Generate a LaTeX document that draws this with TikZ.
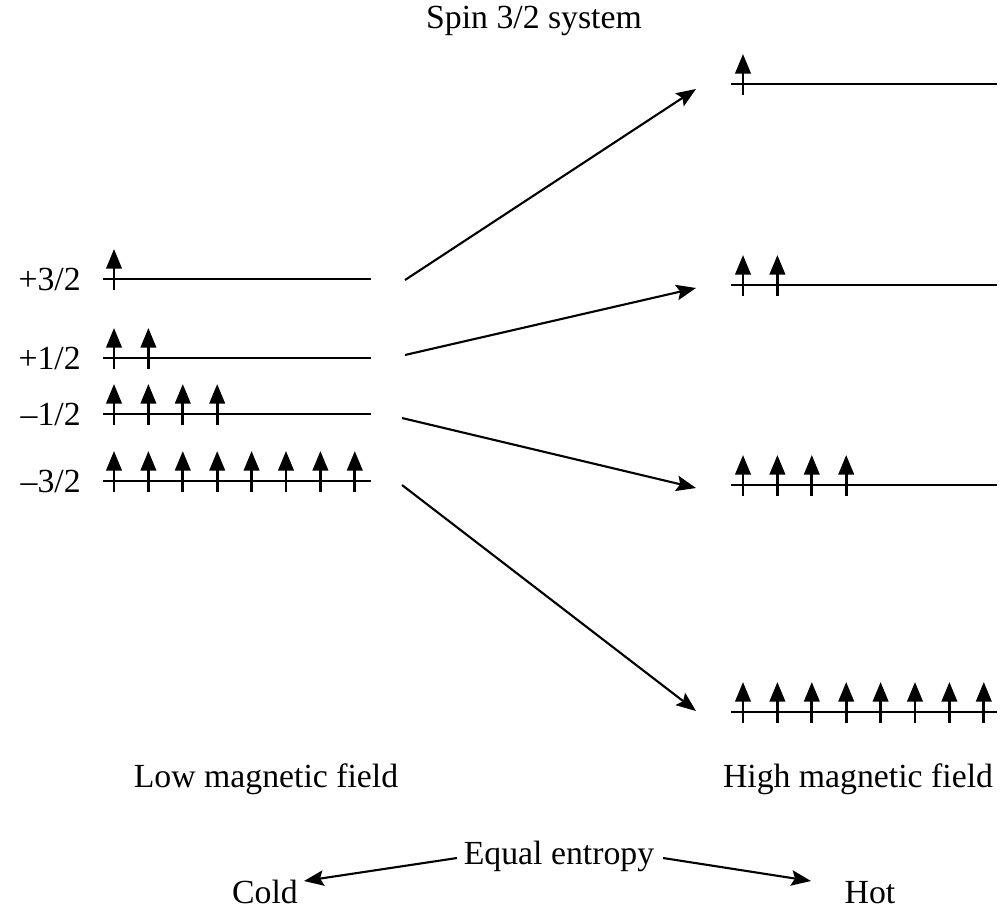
\documentclass[tikz,border=0pt]{standalone}
\usepackage{fontspec}
\setmainfont{Liberation Serif}
\usetikzlibrary{positioning,arrows.meta}

\begin{document}
\begin{tikzpicture}[
    x=0.025cm, y=-0.025cm,
    lab/.style={font=\fontsize{24}{28}\selectfont, inner sep=0pt, anchor=base},
    level/.style={line width=1.9pt},
    spin/.style={line width=1.9pt, -{Triangle[length=14pt, width=11pt]}},
    trans/.style={line width=1.5pt, -{Stealth[length=14pt, width=11pt, inset=2.5pt]}}
]
\useasboundingbox (0,0) rectangle (1001,909);

% Title
\node[lab] (title) at (534,28) {Spin 3/2 system};

% Low field levels
\foreach \yy/\nn/\lab/\id in {279/1/{+3/2}/a, 358/2/{+1/2}/b, 414/4/{\textendash1/2}/c, 481/8/{\textendash3/2}/d}{
    \node[lab, anchor=base east] (low-\id) at (81,\yy+11) {\lab};
    \draw[level] (103,\yy) -- (371,\yy);
    \foreach \k in {1,...,\nn}
        \draw[spin] ({114+34.4*(\k-1)},\yy+11) -- ++(0,-41);
}

% High field levels
\foreach \yy/\nn in {84/1, 285/2, 485/4, 712/8}{
    \draw[level] (731,\yy) -- (997,\yy);
    \foreach \k in {1,...,\nn}
        \draw[spin] ({743+34.4*(\k-1)},\yy+11) -- ++(0,-41);
}

% Level shifts
\coordinate (lo-a) at (405,280);
\coordinate (lo-b) at (405,355);
\coordinate (lo-c) at (402,418);
\coordinate (lo-d) at (402,485);
\coordinate (hi-a) at (696,89);
\coordinate (hi-b) at (696,288);
\coordinate (hi-c) at (696,488);
\coordinate (hi-d) at (696,711);
\draw[trans] (lo-a) -- (hi-a);
\draw[trans] (lo-b) -- (hi-b);
\draw[trans] (lo-c) -- (hi-c);
\draw[trans] (lo-d) -- (hi-d);

% Bottom labels
\node[lab] (lowf) at (266,787) {Low magnetic field};
\node[lab] (highf) at (858,787) {High magnetic field};
\node[lab] (eq) at (559,864) {Equal entropy};
\node[lab] (cold) at (265,903) {Cold};
\node[lab] (hot) at (870,903) {Hot};
\coordinate (eq-l) at (457,858);
\coordinate (eq-r) at (663,858);
\coordinate (cold-t) at (304,881);
\coordinate (hot-t) at (811,881);
\draw[trans] (eq-l) -- (cold-t);
\draw[trans] (eq-r) -- (hot-t);

\end{tikzpicture}
\end{document}
